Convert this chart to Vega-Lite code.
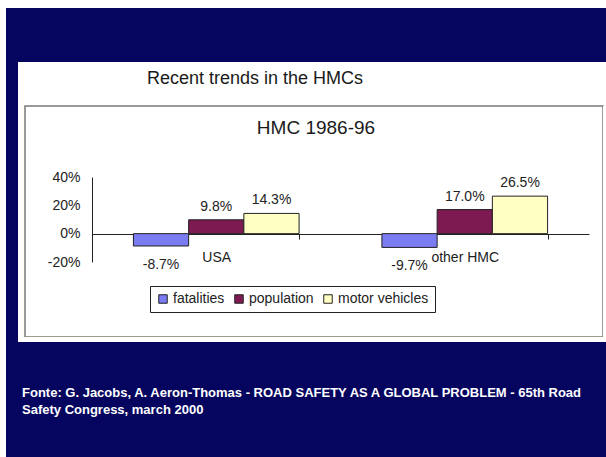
{
  "$schema": "https://vega.github.io/schema/vega-lite/v6.json",
  "background": "white",
  "padding": {"left": 6, "top": 8, "right": 0, "bottom": 0},
  "config": {
    "view": {"stroke": null},
    "font": "Liberation Sans",
    "title": {"fontWeight": "normal"},
    "locale": {"number": {"decimal": ".", "thousands": ",", "grouping": [3], "currency": ["$", ""], "minus": "-"}}
  },
  "datasets": {
    "none": [],
    "trends": [
      {"region": "USA", "series": "fatalities", "value": -0.087},
      {"region": "USA", "series": "population", "value": 0.098},
      {"region": "USA", "series": "motor vehicles", "value": 0.143},
      {"region": "other HMC", "series": "fatalities", "value": -0.097},
      {"region": "other HMC", "series": "population", "value": 0.170},
      {"region": "other HMC", "series": "motor vehicles", "value": 0.265}
    ]
  },
  "columns": 4,
  "spacing": 0,
  "bounds": "flush",
  "align": "each",
  "concat": [
    {"width": 12, "height": 54, "view": {"fill": "#050560", "stroke": null}, "data": {"name": "none"}, "mark": "point"},
    {"width": 7, "height": 54, "view": {"fill": "#050560", "stroke": null}, "data": {"name": "none"}, "mark": "point"},
    {"width": 578, "height": 54, "view": {"fill": "#050560", "stroke": null}, "data": {"name": "none"}, "mark": "point"},
    {"width": 3, "height": 54, "view": {"fill": "#050560", "stroke": null}, "data": {"name": "none"}, "mark": "point"},

    {"width": 12, "height": 44, "view": {"fill": "#050560", "stroke": null}, "data": {"name": "none"}, "mark": "point"},
    {"width": 7, "height": 44, "view": {"fill": "white", "stroke": null}, "data": {"name": "none"}, "mark": "point"},
    {
      "width": 578, "height": 44,
      "view": {"fill": "white", "stroke": null},
      "title": {"text": "Recent trends in the HMCs", "orient": "top", "anchor": "start", "frame": "group", "dx": 122, "offset": -40, "baseline": "alphabetic", "fontSize": 18, "fontWeight": "normal", "color": "#1a1a1a"},
      "data": {"name": "none"}, "mark": "point"
    },
    {"width": 3, "height": 44, "view": {"fill": "white", "stroke": null}, "data": {"name": "none"}, "mark": "point"},

    {"width": 12, "height": 231, "view": {"fill": "#050560", "stroke": null}, "data": {"name": "none"}, "mark": "point"},
    {"width": 7, "height": 231, "view": {"fill": "white", "stroke": null}, "data": {"name": "none"}, "mark": "point"},
    {
      "width": 578, "height": 231,
      "view": {"fill": "white", "stroke": "#7a7a7a", "strokeWidth": 1.5},
      "title": {"text": "HMC 1986-96", "orient": "top", "anchor": "middle", "frame": "group", "dx": 2, "offset": -47, "baseline": "alphabetic", "fontSize": 19, "fontWeight": "normal", "color": "#1a1a1a"},
      "data": {"name": "trends"},
      "encoding": {
        "x": {
          "field": "region", "type": "nominal", "sort": ["USA", "other HMC"],
          "scale": {"range": [67, 564], "paddingInner": 0.3333, "paddingOuter": 0.16667},
          "axis": {"orient": "bottom", "offset": -103, "title": null, "labelAngle": 0, "tickBand": "extent", "tickSize": 5, "tickColor": "#222", "domainColor": "#222", "labelFontSize": 14, "labelColor": "#222", "labelPadding": 11}
        },
        "xOffset": {"field": "series", "type": "nominal", "sort": ["fatalities", "population", "motor vehicles"], "scale": {"paddingInner": 0, "paddingOuter": 0}},
        "y": {
          "field": "value", "type": "quantitative",
          "scale": {"domain": [-0.2, 0.4], "range": [156, 71], "nice": false, "zero": false},
          "axis": {"orient": "left", "offset": -67, "title": null, "values": [-0.2, 0, 0.2, 0.4], "format": ".0%", "ticks": false, "grid": false, "domainColor": "#222", "labelFontSize": 14, "labelColor": "#222", "labelPadding": 12}
        }
      },
      "layer": [
        {
          "mark": {"type": "bar", "stroke": "#222", "strokeWidth": 1},
          "encoding": {
            "y2": {"datum": 0},
            "color": {
              "field": "series", "type": "nominal", "sort": ["fatalities", "population", "motor vehicles"],
              "scale": {"range": ["#7b7bf2", "#7d1a52", "#ffffc4"]},
              "legend": {"orient": "none", "legendX": 144, "legendY": 278, "direction": "horizontal", "title": null, "strokeColor": "#222", "fillColor": "white", "padding": 6, "symbolType": "square", "symbolSize": 72, "symbolStrokeColor": "#222", "symbolStrokeWidth": 1, "labelFontSize": 14, "labelColor": "#222", "labelOffset": 3, "columnPadding": 7}
            }
          }
        },
        {
          "transform": [{"filter": "datum.value > 0"}],
          "mark": {"type": "text", "baseline": "alphabetic", "dy": -9, "fontSize": 14, "color": "#222"},
          "encoding": {"text": {"field": "value", "type": "quantitative", "format": ".1%"}}
        },
        {
          "transform": [{"filter": "datum.value < 0"}],
          "mark": {"type": "text", "baseline": "top", "dy": 12, "fontSize": 14, "color": "#222"},
          "encoding": {"text": {"field": "value", "type": "quantitative", "format": ".1%"}}
        }
      ]
    },
    {"width": 3, "height": 231, "view": {"fill": "white", "stroke": null}, "data": {"name": "none"}, "mark": "point"},

    {"width": 12, "height": 5, "view": {"fill": "#050560", "stroke": null}, "data": {"name": "none"}, "mark": "point"},
    {"width": 7, "height": 5, "view": {"fill": "white", "stroke": null}, "data": {"name": "none"}, "mark": "point"},
    {"width": 578, "height": 5, "view": {"fill": "white", "stroke": null}, "data": {"name": "none"}, "mark": "point"},
    {"width": 3, "height": 5, "view": {"fill": "white", "stroke": null}, "data": {"name": "none"}, "mark": "point"},

    {"width": 12, "height": 115, "view": {"fill": "#050560", "stroke": null}, "data": {"name": "none"}, "mark": "point"},
    {"width": 7, "height": 115, "view": {"fill": "#050560", "stroke": null}, "data": {"name": "none"}, "mark": "point"},
    {
      "width": 578, "height": 115,
      "view": {"fill": "#050560", "stroke": null},
      "title": {"text": ["Fonte: G. Jacobs, A. Aeron-Thomas - ROAD SAFETY AS A GLOBAL PROBLEM - 65th Road", "Safety Congress, march 2000"], "orient": "top", "anchor": "start", "frame": "group", "dx": -3, "offset": -85, "baseline": "alphabetic", "fontSize": 13, "fontWeight": "bold", "color": "white", "lineHeight": 17, "limit": 0},
      "data": {"name": "none"}, "mark": "point"
    },
    {"width": 3, "height": 115, "view": {"fill": "#050560", "stroke": null}, "data": {"name": "none"}, "mark": "point"}
  ]
}
